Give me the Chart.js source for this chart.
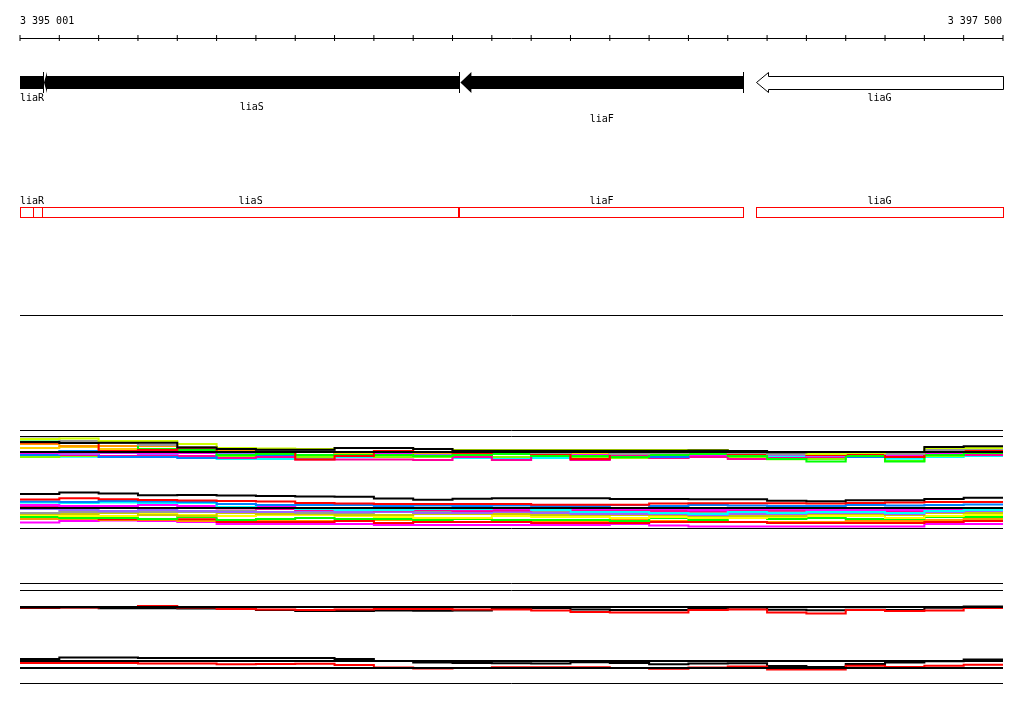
<!DOCTYPE html>
<html><head><meta charset="utf-8">
<script src="https://cdn.jsdelivr.net/npm/chart.js@4.4.1/dist/chart.umd.min.js"></script>
<style>html,body{margin:0;padding:0;background:#fff;}canvas{display:block;}</style>
</head><body>
<canvas id="c" width="1024" height="714"></canvas>
<script>
// ================= DATA =================
const regionStart = 3395001;
const regionEnd = 3397501;
const coordLabels = ['3 395 001', '3 397 500'];
const rulerStep = 100;

// genes (upper track, arrows)
const geneNames   = ['liaR', 'liaS', 'liaF', 'liaG'];
const geneStarts  = [3394426, 3395062, 3396121, 3396873];
const geneEnds    = [3395061, 3396119, 3396840, 3397501];
const geneStrands = [-1, -1, -1, -1];
const geneFilled  = [true, true, true, false];
const geneLabelRow = [0, 1, 2, 0];

// annotated features (red boxes)
const featureNames  = ['liaR', '', 'liaS', 'liaF', 'liaG'];
const featureStarts = [3395001, 3395035, 3395058, 3396120, 3396873];
const featureEnds   = [3395035, 3395058, 3396117, 3396840, 3397501];

// probe bins (start positions of each 100 bp bin)
const binStarts = [3395001,3395101,3395201,3395301,3395401,3395501,3395601,3395701,3395801,3395901,
                   3396001,3396101,3396201,3396301,3396401,3396501,3396601,3396701,3396801,3396901,
                   3397001,3397101,3397201,3397301,3397401];

// panel 1, upper band (signal, arbitrary units)
const p1uYellowGreen = [27,27.5,25,25,22,18,17.5,17,18,18,17,16,16,16,16,16,16,16,15,14,12,13,14,18,18];
const p1uOrange      = [22,20,20,20,19,16,16,14,14,14,13,14,13,14,14,13,15,15.5,14,13,13,12,13,16,17];
const p1uRed         = [23.5,23,15,16,18,14,16,6.5,10,15,14,13,14,12,7,13,14,15,12,13,11,12,9,14,15];
const p1uGreen       = [24.5,24,23,17,16,11,12,11,11,11,10,11,12,10,10,9,11,12,10,7,4.5,10,4.5,11,13];
const p1uMagenta     = [13,13.5,13.5,13,13,14,14,14,13,13,13,16,12,15,11,16,13,11,13,14,12,11,11,13,14];
const p1uBlue        = [11,15,9,9,8,12,11,11,12,12,11,11,12,10,11,9,9,15,10,11,10,9,10,11,16];
const p1uCyan        = [11,9.3,9.3,10,9,7,7,7,9,10,10,8,8,8,10,9,8,9,8,9,9,10,7.3,9,10];
const p1uGray        = [27.5,25,23,21,18.7,17,16,15,14,14,14,14.5,14,13,14,12,13,14,13,12,14,13,12,16,17];
const p1uPurple      = [14,12,13,12,13,12,13,11,12,13,12,12,13,11,12,12,11,12,12,11,10,11,12,14,13];
const p1uPink        = [12,11,10,11,10,8,9,6.5,6.5,6.5,6,9,6,10,6,10,8,9,7,8,9,10,9,11,11];
const p1uBlack       = [24,23,23.3,23.3,18.5,17,16.3,16.3,18,18,17,15.3,15.3,15.3,15.3,15.3,15.3,15.5,15,13.7,14,14,14,19,19.7];
const p1uGold        = [18,19,17,16,16,15,14,14,13,14,14,13,14,14,13,14,13,14,13,12,13,14,13,15,16];
const p1uLime        = [9,10,9,10,9,10,9,9,10,9,9,10,9,10,9,8,10,10,9,6.7,7,10,5,10,11];
const p1uRef = 14;

// panel 1, lower band
const p1lRed      = [30.5,31.7,30.7,30,29.5,29,28.5,27,26.5,26,26,26,26,25.3,25.3,25.3,26.5,26.7,26.7,26.7,26.5,27,27.5,28,28];
const p1lBlue     = [28.5,28,29,28.5,28,26,25,25,25,24,24.5,24,24.5,24,24,25,24,25,24.5,24,24,25,24.5,25,25.5];
const p1lCyan     = [27.5,27,27.5,27,27,23,22,21,20,20,21,21,22,20,18,18,17,16,18,17,18,18,17,19,20];
const p1lMagenta  = [25,24,24,25,24,23,24,22,22,21,21,20.5,21,21,21,21,21,20,21,21,20,20,20,21,22];
const p1lGray     = [17,18,18,18,18,19,18,17,17,18,18,18,19,18,17,18,18,18,18,18,20,19,19,20,20];
const p1lYellow   = [15,14,14,16,15,14,15,15,14,13,12,12,14,13,13,12,13,12,12,13,14,14,12,14,15];
const p1lGreen    = [13,12,12,11,13,10,11,12,11,11,10,11,10,10,10,9,12,10,12,11,12,11,11,13,13];
const p1lOrange   = [11,11,10,10,9,9,9,9,9,10,9,8,9,9,9,10,9,9,8,8,8,9,9,10,11];
const p1lMagenta2 = [7.5,9,9.5,9,8,6,6,6,6,5,5,5,5,5,5,6,4.5,3.5,3.5,3.5,3.5,3.5,3.5,6,6];
const p1lRed2     = [14,13,10.7,10.7,10.7,8,8,8,9,7,8,8,8,7,7,7,8,8,8,7,7,7,7,8,9];
const p1lPurple   = [21,20,19,20,19,18,18,19,18,18,17,17,18,17,16,16,16,15,16,16,17,17,16,18,19];
const p1lOlive    = [16,16,17,15,14,17,16,16,15,15,16,16,16,15,15,15,15,14,14,14,16,16,15,17,17];
const p1lPink     = [23,22.5,23,22,22,21.5,21,20,20,19.5,20,19,19.5,20,19,19,19,19,19,19.5,19,20,19,21,22];
const p1lBlack    = [36,37.5,36.5,34.7,35,34.5,34,33.5,33.3,31.5,30.3,31.3,31.7,31.7,31.7,31,31,30.7,30.7,29.2,28.7,29.7,29.7,31,32.3];
const p1lRef = 22;

// panel 2
const p2uRed   = [12.5,12.5,13,14,12.5,11,10.5,10,10.5,11,11,10.5,10.5,9.5,8,7.5,7.5,10,10.5,7.5,6.5,10,9,9.5,12];
const p2uBlack = [12,12.5,11.7,11.7,11.5,11.5,10,9,9,9.5,9.3,9.5,11,12,10.5,10,10,11.5,12.5,10.3,9.7,10.3,10,12.3,13.5];
const p2uRef = 13;
const p2lRed   = [17,17,17,16.5,16.5,15.7,16,16.3,15,12.5,11.5,12,12.7,12.7,12.7,12,11.3,12.5,13.5,10.5,10.5,14.3,13,14.3,15.2];
const p2lBlack = [21,22.5,22.5,22,22,22,22,22,21,19,17.5,17,16.7,16.5,17.7,17,15.7,16.5,16.7,14,13,16,17.5,18.7,20.5];
const p2lRefs = [19, 12];

// ================= LAYOUT / STYLE =================
const H = 714;
const FONT = '10px "DejaVu Sans Mono", monospace';
const L = {
  coordBaseline: 24, rulerY: 38.5, rulerTickY: 38,
  geneMid: 82.5, geneBarTop: 76, geneBarBottom: 89, geneHeadTop: 72, geneHeadBottom: 93,
  geneLabelBaselines: [101, 110, 122],
  featTop: 207, featBottom: 217, featLabelBaseline: 204,
  frames: [315.5, 430.5, 436.5, 528.5, 583.5, 590.5, 683.5]
};
const GENE_HEAD_PX = [11, 3, 11, 12];
const bands = { p1u: 466, p1l: 530, p2u: 620, p2l: 680 }; // pixel of zero level, 1 px per unit

const COLORS = {
  yellowGreen: '#ccff00', orange: '#ff9900', red: '#ff0000', green: '#00ff00', magenta: '#ff00ff',
  blue: '#0080ff', cyan: '#00ffff', gray: '#999999', purple: '#9966ff', pink: '#ff0099',
  black: '#000000', gold: '#ffcc00', lime: '#80ff00', yellow: '#ffff00', olive: '#cccc00'
};

// ================= BUILD =================
const datasets = [];
let orderCounter = 10;
function stepPoints(vals) {
  const pts = vals.map((v, i) => ({ x: binStarts[i], y: v }));
  pts.push({ x: regionEnd, y: vals[vals.length - 1] });
  return pts;
}
function addSeries(vals, color, axis, width, order) {
  datasets.push({ type: 'line', data: stepPoints(vals), borderColor: color, borderWidth: width,
    stepped: 'before', pointRadius: 0, fill: false, yAxisID: axis, order: order ?? orderCounter++ });
}
function addFlat(value, axis, width, order) {
  datasets.push({ type: 'line', data: [{ x: regionStart, y: value }, { x: regionEnd, y: value }],
    borderColor: '#000', borderWidth: width, pointRadius: 0, fill: false, yAxisID: axis, order });
}

// structure lines
addFlat(L.rulerY, 'yL', 1, 0);
L.frames.forEach(f => addFlat(f, 'yL', 1, 0));
const rulerTicks = [];
for (let t = regionStart; t <= regionEnd; t += rulerStep) rulerTicks.push({ x: t, y: L.rulerTickY });
datasets.push({ type: 'scatter', data: rulerTicks, yAxisID: 'yL', pointStyle: 'line', pointRotation: 90,
  pointRadius: 3, pointBorderColor: '#000', pointBorderWidth: 1, showLine: false, clip: false, order: 0 });

// reference lines
addFlat(p1uRef, 'p1u', 2, 1);
addFlat(p1lRef, 'p1l', 2, 1);
addFlat(p2uRef, 'p2u', 2, 1);
p2lRefs.forEach(r => addFlat(r, 'p2l', 2, 1));

// panel 1 upper
[[p1uBlack, 'black'], [p1uYellowGreen, 'yellowGreen'], [p1uGray, 'gray'], [p1uRed, 'red'], [p1uGreen, 'green'],
 [p1uOrange, 'orange'], [p1uGold, 'gold'], [p1uMagenta, 'magenta'], [p1uPurple, 'purple'], [p1uBlue, 'blue'],
 [p1uPink, 'pink'], [p1uLime, 'lime'], [p1uCyan, 'cyan']].forEach(([v, c]) => addSeries(v, COLORS[c], 'p1u', 2));
// panel 1 lower
[[p1lBlack, 'black'], [p1lRed, 'red'], [p1lBlue, 'blue'], [p1lCyan, 'cyan'], [p1lMagenta, 'magenta'], [p1lPink, 'pink'],
 [p1lPurple, 'purple'], [p1lGray, 'gray'], [p1lOlive, 'olive'], [p1lYellow, 'yellow'], [p1lGreen, 'green'],
 [p1lRed2, 'red'], [p1lOrange, 'orange'], [p1lMagenta2, 'magenta']].forEach(([v, c]) => addSeries(v, COLORS[c], 'p1l', 2));
// panel 2
addSeries(p2uRed, COLORS.red, 'p2u', 2, 2);
addSeries(p2uBlack, COLORS.black, 'p2u', 2, 3);
addSeries(p2lRed, COLORS.red, 'p2l', 2, 2);
addSeries(p2lBlack, COLORS.black, 'p2l', 2, 3);

const scales = {
  x: { type: 'linear', display: false, min: regionStart, max: regionEnd },
  yL: { type: 'linear', display: false, min: 0, max: H, reverse: true }
};
Object.entries(bands).forEach(([id, base]) => {
  scales[id] = { type: 'linear', display: false, min: -(H - base), max: base };
});

const trackPlugin = {
  id: 'tracks',
  beforeDraw(chart) {
    const ctx = chart.ctx; ctx.save(); ctx.fillStyle = '#fff'; ctx.fillRect(0, 0, chart.width, chart.height); ctx.restore();
  },
  afterDatasetsDraw(chart) {
    const ctx = chart.ctx, ca = chart.chartArea;
    const xs = chart.scales.x, ys = chart.scales.yL;
    const X = v => xs.getPixelForValue(v), Y = v => ys.getPixelForValue(v);
    const clampCenter = (c, w) => Math.max(ca.left, Math.min(ca.right - w, c - w / 2));
    ctx.save();
    ctx.font = FONT; ctx.fillStyle = '#000'; ctx.textBaseline = 'alphabetic';
    ctx.textAlign = 'left'; ctx.fillText(coordLabels[0], X(regionStart), Y(L.coordBaseline));
    ctx.textAlign = 'right'; ctx.fillText(coordLabels[1], X(regionEnd) - 1, Y(L.coordBaseline));
    ctx.textAlign = 'left';

    // gene arrows
    ctx.save();
    ctx.beginPath(); ctx.rect(ca.left, 0, ca.right - ca.left + 1, chart.height); ctx.clip();
    const cy = Y(L.geneMid), bt = Y(L.geneBarTop), bb = Y(L.geneBarBottom), ht = Y(L.geneHeadTop), hb = Y(L.geneHeadBottom);
    geneNames.forEach((name, i) => {
      const a = X(geneStarts[i]), b = X(geneEnds[i]);
      const minus = geneStrands[i] < 0;
      const tip = minus ? a : b, tail = minus ? b : a, dir = minus ? 1 : -1;
      const head = GENE_HEAD_PX[i];
      if (geneFilled[i]) {
        const hx = tip + dir * head;
        ctx.fillStyle = '#000';
        ctx.beginPath();
        ctx.moveTo(tip, cy); ctx.lineTo(hx, ht); ctx.lineTo(hx, bt); ctx.lineTo(tail, bt);
        ctx.lineTo(tail, bb); ctx.lineTo(hx, bb); ctx.lineTo(hx, hb); ctx.closePath(); ctx.fill();
        ctx.fillRect(Math.floor(tail), ht, 1, hb - ht);
      } else {
        const p = v => Math.floor(v) + 0.5;
        const t = p(tip), hx = p(tip + dir * head), tl = p(tail);
        ctx.fillStyle = '#fff'; ctx.strokeStyle = '#000'; ctx.lineWidth = 1;
        ctx.beginPath();
        ctx.moveTo(t, cy); ctx.lineTo(hx, ht + 0.5); ctx.lineTo(hx, bt + 0.5); ctx.lineTo(tl, bt + 0.5);
        ctx.lineTo(tl, bb + 0.5); ctx.lineTo(hx, bb + 0.5); ctx.lineTo(hx, hb - 0.5); ctx.closePath();
        ctx.fill(); ctx.stroke();
      }
    });
    ctx.restore();

    ctx.fillStyle = '#000'; ctx.font = FONT;
    geneNames.forEach((name, i) => {
      const a = Math.max(X(geneStarts[i]), ca.left), b = Math.min(X(geneEnds[i]), ca.right);
      const w = ctx.measureText(name).width;
      ctx.fillText(name, clampCenter((a + b) / 2, w), Y(L.geneLabelBaselines[geneLabelRow[i]]));
    });

    // feature boxes
    ctx.strokeStyle = '#ff0000'; ctx.lineWidth = 1;
    featureStarts.forEach((s, i) => {
      const a = Math.floor(X(s)) + 0.5, b = Math.floor(X(featureEnds[i])) + 0.5;
      const top = Y(L.featTop) + 0.5, bot = Y(L.featBottom) + 0.5;
      ctx.strokeRect(a, top, b - a, bot - top);
      if (featureNames[i]) {
        const w = ctx.measureText(featureNames[i]).width;
        ctx.fillText(featureNames[i], clampCenter((X(s) + X(featureEnds[i])) / 2, w), Y(L.featLabelBaseline));
      }
    });
    ctx.restore();
  }
};

new Chart(document.getElementById('c'), {
  type: 'line',
  data: { datasets },
  options: {
    responsive: false, animation: false, devicePixelRatio: 1, events: [],
    layout: { autoPadding: false, padding: { left: 20, right: 21, top: 0, bottom: 0 } },
    plugins: { legend: { display: false }, tooltip: { enabled: false }, title: { display: false } },
    scales
  },
  plugins: [trackPlugin]
});
</script>
</body></html>
